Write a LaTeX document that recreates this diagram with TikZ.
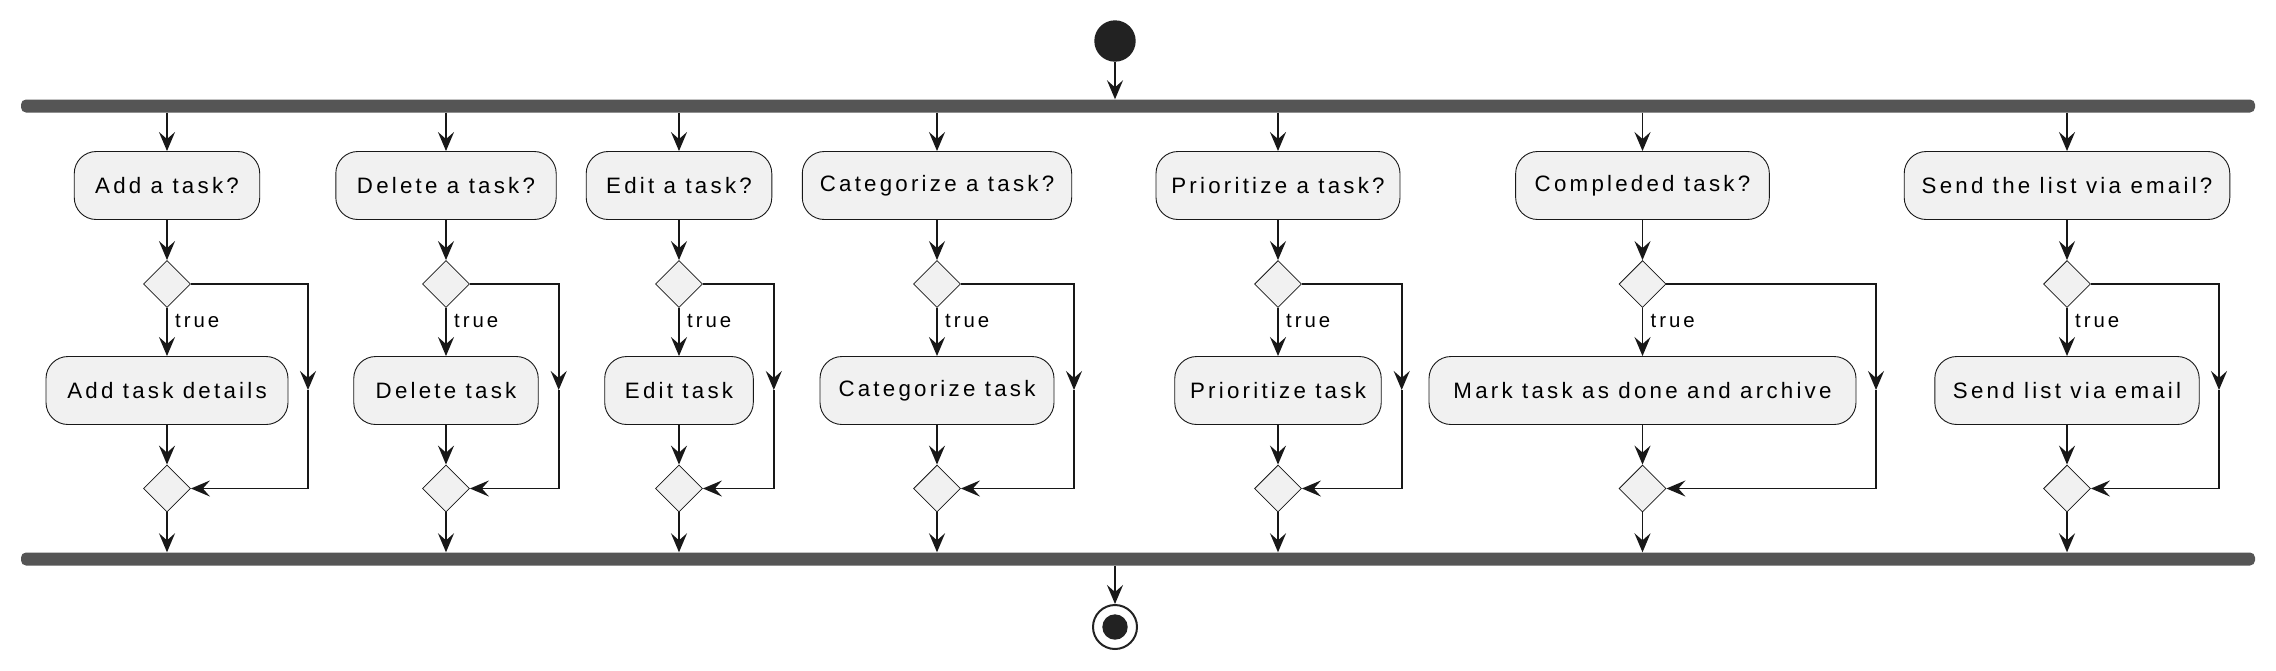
\documentclass[tikz,border=0pt]{standalone}
\usepackage{fontspec}
\setmainfont{Liberation Sans}[LetterSpace=14.5]
\usetikzlibrary{arrows.meta,shapes.geometric}
\definecolor{linec}{HTML}{181818}
\definecolor{boxfill}{HTML}{F1F1F1}
\definecolor{barc}{HTML}{555555}
\definecolor{dotc}{HTML}{222222}
\begin{document}
\begin{tikzpicture}[x=1pt,y=-1pt,
  act/.style={draw=linec, line width=0.9pt, fill=boxfill, rounded corners=22pt,
    minimum height=68pt, inner sep=0pt, font=\fontsize{22.3}{26}\selectfont, text=black},
  dec/.style={draw=linec, line width=0.8pt, fill=boxfill, diamond, aspect=1,
    minimum width=47pt, minimum height=47pt, inner sep=0pt},
  bar/.style={fill=barc, draw=none, rounded corners=5pt, minimum height=13pt, inner sep=0pt},
  lbl/.style={font=\fontsize{20.4}{24}\selectfont, text=black, inner sep=0pt},
  arr/.style={draw=linec, line width=1.8pt, -{Stealth[length=19pt,width=16pt,inset=7pt]}},
]
\useasboundingbox (0,0) rectangle (2276,670);

\node[bar, minimum width=2234pt] (fork) at (1138,106) {};
\node[bar, minimum width=2234pt] (join) at (1138,559) {};

\node[circle, fill=dotc, minimum size=41.4pt, inner sep=0pt] (start) at (1115,41) {};
\node[circle, draw=dotc, line width=2pt, fill=white, minimum size=44pt, inner sep=0pt] (stop) at (1115,627) {};
\node[circle, fill=dotc, minimum size=25.4pt, inner sep=0pt] (stopin) at (stop) {};

\draw[arr] (start) -- (start |- fork.north);
\draw[arr] (stop |- join.south) -- (stop);

\foreach \i/\cx/\wa/\wb/\sx/\la/\lb in {
  1/167/185.5/242/308/Add a task?/Add task details,
  2/446/220.4/184.5/558.7/Delete a task?/Delete task,
  3/679/185.6/148.6/773.8/Edit a task?/Edit task,
  4/937/269.4/234/1074/Categorize a task?/Categorize task,
  5/1278/244/206.5/1401.7/Prioritize a task?/Prioritize task,
  6/1642.5/253.7/427/1876/Compleded task?/Mark task as done and archive,
  7/2067/325.6/264.4/2219/Send the list via email?/Send list via email}{
  \node[act, minimum width=\wa pt] (q\i) at (\cx,185.5) {\la};
  \node[dec] (d\i) at (\cx,284) {};
  \node[act, minimum width=\wb pt] (a\i) at (\cx,390.5) {\lb};
  \node[dec] (m\i) at (\cx,488.5) {};
  \node[lbl, anchor=west] (t\i) at (\cx+8,321) {true};
  \coordinate (s\i-t) at (\sx,284);
  \coordinate (s\i-m) at (\sx,390);
  \coordinate (s\i-b) at (\sx,488.5);
  \draw[arr] (q\i.north |- fork.south) -- (q\i.north);
  \draw[arr] (q\i) -- (d\i);
  \draw[arr] (d\i) -- (a\i);
  \draw[arr] (a\i) -- (m\i);
  \draw[arr] (m\i) -- (m\i |- join.north);
  \draw[arr] (d\i.east) -- (s\i-t) -- (s\i-m);
  \draw[arr] (s\i-m) -- (s\i-b) -- (m\i.east);
}
\end{tikzpicture}
\end{document}
